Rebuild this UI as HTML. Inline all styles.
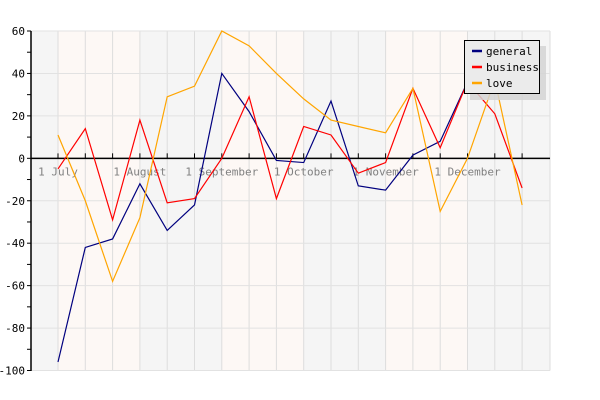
<!DOCTYPE html>
<html><head><meta charset="utf-8"><style>
html,body{margin:0;padding:0;background:#fff;}
svg{display:block;font-family:"DejaVu Sans Mono","Liberation Mono",monospace;}
</style></head><body>
<svg id="chart" width="600" height="400">
<g id="bg"></g><g id="grid"></g><g id="axes"></g><g id="series"></g><g id="legend"></g>
</svg>
<script>
const monthLabels = ["1 July","1 August","1 September","1 October","1 November","1 December"];
const monthIndex = [0,3,6,9,12,15];
const yTicks = [60,40,20,0,-20,-40,-60,-80,-100];
const general = [-96,-42,-38,-12,-34,-22,40,22,-1,-2,27,-13,-15,1.5,8,36];
const business = [-5,14,-29,18,-21,-19,0,29,-19,15,11,-7,-2,33,5,36,21,-14];
const love = [11,-20,-58,-28,29,34,60,53,40,28,18,15,12,33,-25,0,37,-22];
const seriesNames = ["general","business","love"];
const seriesColors = ["#00007f","#ff0000","#ffa500"];
const seriesData = [general,business,love];

const NS="http://www.w3.org/2000/svg";
const L=31,R=550,T=31,B=370.5,X0=58,DX=27.3;
const x=i=>X0+i*DX;
const y=v=>T+(60-v)*(B-T)/160;
function mk(tag,attrs,parent){const e=document.createElementNS(NS,tag);for(const k in attrs)e.setAttribute(k,attrs[k]);parent.appendChild(e);return e;}
const bg=document.getElementById('bg'),grid=document.getElementById('grid'),axes=document.getElementById('axes'),ser=document.getElementById('series'),leg=document.getElementById('legend');

// stripes
const bounds=[L].concat(monthIndex.map(x)).concat([R]);
for(let i=0;i<bounds.length-1;i++){
  const r=mk('rect',{x:bounds[i],y:T,width:bounds[i+1]-bounds[i],height:B-T,fill:(i%2===0)?'#f5f5f5':'#fdf8f5'},bg);
  
  
}
// vertical grid
for(let i=0;i<18;i++){
  const g=mk('line',{x1:x(i),x2:x(i),y1:T,y2:B,stroke:'#dddddd','stroke-width':1},grid);
  
  
  const t=mk('line',{x1:x(i),x2:x(i),y1:y(0)-5,y2:y(0),stroke:'#000'},axes);
  
  
}
mk('line',{x1:R,x2:R,y1:T,y2:B,stroke:'#dddddd'},grid);
// horizontal grid + y labels
yTicks.forEach(v=>{
  const g=mk('line',{x1:L,x2:R,y1:y(v),y2:y(v),stroke:'#e2e2e2'},grid);
  
  
  const t=mk('line',{x1:L-4,x2:L,y1:y(v),y2:y(v),stroke:'#000'},axes);
  
  
  const tx=mk('text',{x:25,y:y(v)+4,'text-anchor':'end','font-size':11,fill:'#000'},axes);
  tx.textContent=v;
  
  
});
for(let v=50;v>-100;v-=20){
  const t=mk('line',{x1:L-4,x2:L,y1:y(v),y2:y(v),stroke:'#000'},axes);
  
  
}
const ya=mk('line',{x1:L,x2:L,y1:T,y2:B+0.5,stroke:'#000','stroke-width':1.5},axes);


const xa=mk('line',{x1:L,x2:R,y1:y(0),y2:y(0),stroke:'#000','stroke-width':1.5},axes);


monthLabels.forEach((m,i)=>{
  const tx=mk('text',{x:x(monthIndex[i]),y:y(0)+17,'text-anchor':'middle','font-size':11,fill:'#808080'},axes);
  tx.textContent=m;
  
  
});
// series
seriesData.forEach((d,s)=>{
  const p=mk('polyline',{points:d.map((v,i)=>x(i)+','+y(v)).join(' '),fill:'none',stroke:seriesColors[s],'stroke-width':1.2},ser);
  
  
});
// legend
const sh=mk('rect',{x:470,y:46,width:76,height:54,fill:'#d3d3d3','fill-opacity':0.85},leg);


const box=mk('rect',{x:464.5,y:40.5,width:75,height:53,fill:'#ebebeb',stroke:'#000'},leg);


seriesNames.forEach((n,i)=>{
  const ly=51+i*16;
  const l=mk('line',{x1:472,x2:482,y1:ly,y2:ly,stroke:seriesColors[i],'stroke-width':2.5},leg);
  
  
  const t=mk('text',{x:486,y:ly+4,'font-size':11,fill:'#000'},leg);
  t.textContent=n;
  
  
});
</script>
</body></html>
